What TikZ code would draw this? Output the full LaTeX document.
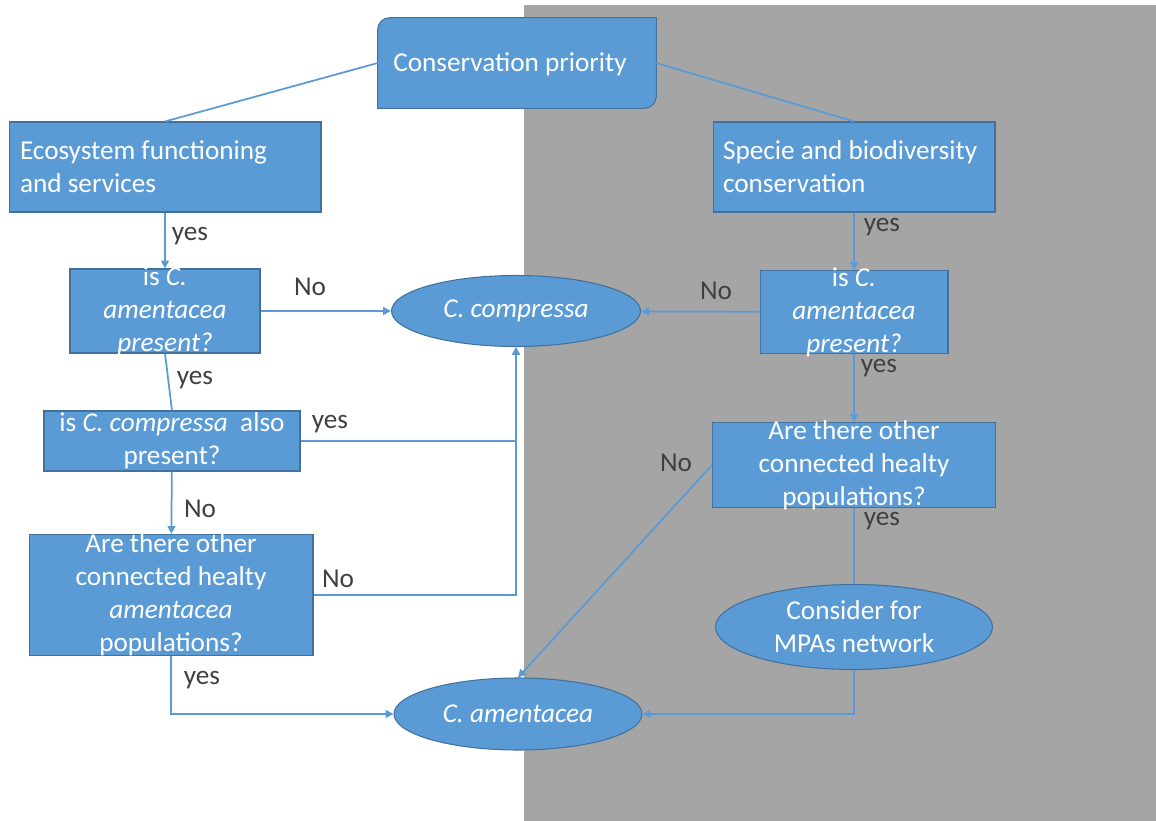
\documentclass[tikz,border=0pt]{standalone}
\usepackage{fontspec}
\setmainfont{Carlito}
\usetikzlibrary{shapes.geometric, arrows.meta, positioning}
\definecolor{flowblue}{HTML}{5B9BD5}
\definecolor{flowedge}{HTML}{41719C}
\definecolor{panelgray}{HTML}{A5A5A5}
\definecolor{answergray}{HTML}{404040}
\newcommand{\boxfont}{\fontsize{15.5}{18.7}\selectfont}

\begin{document}
\begin{tikzpicture}[
    x=0.02cm, y=-0.02cm,
    box/.style={
        rectangle,
        draw=flowedge,
        fill=flowblue,
        line width=0.6pt,
        inner sep=0pt,
        text=white,
        font=\boxfont,
        align=center
    },
    oval/.style={
        ellipse,
        draw=flowedge,
        fill=flowblue,
        line width=0.6pt,
        inner sep=0pt,
        text=white,
        font=\boxfont
    },
    boxtext/.style={
        text=white,
        font=\boxfont,
        align=center,
        inner sep=0pt
    },
    arrow/.style={
        -{Triangle[length=4.5pt,width=4.5pt]},
        line width=1pt,
        flowblue
    },
    link/.style={
        line width=1pt,
        flowblue
    },
    answer/.style={
        font=\boxfont,
        text=answergray
    }
]

% Background and grey panel
\fill[white] (0,0) rectangle (1156,821);
\fill[panelgray] (524,5) rectangle (1156,821);

% Top box, two rounded corners
\node[inner sep=0pt, minimum width=5.56cm, minimum height=1.8cm] (prio) at (517,63) {};
\filldraw[fill=flowblue, draw=flowedge, line width=0.6pt]
    (prio.south west) -- ([yshift=-0.24cm]prio.north west)
    arc[start angle=180, end angle=90, radius=0.24cm]
    -- (prio.north east) -- ([yshift=0.24cm]prio.south east)
    arc[start angle=0, end angle=-90, radius=0.24cm] -- cycle;
\node[boxtext] (priotext) at (510,64) {Conservation priority};

% Left branch
\node[box, align=flush left, text width=5.8cm, inner xsep=0.22cm, minimum height=1.8cm] (eco) at (165,167)
    {Ecosystem functioning\\and services};
\node[box, minimum width=3.8cm, minimum height=1.68cm] (isAL) at (165,311) {};
\node[boxtext] (isALtext) at (isAL) {is \textit{C.}\\\textit{amentacea}\\\textit{present?}};
\node[box, minimum width=5.12cm, minimum height=1.2cm] (alsoC) at (172,441) {};
\node[boxtext] (alsoCtext) at (alsoC) {is \textit{C. compressa}\ \ also\\present?};
\node[box, minimum width=5.68cm, minimum height=2.42cm] (otherL) at (171,595) {};
\node[boxtext] (otherLtext) at (otherL) {Are there other\\connected healty\\\textit{amentacea}\\populations?};

% Right branch
\node[box, align=flush left, text width=5.24cm, inner xsep=0.2cm, minimum height=1.8cm] (specie) at (854,167)
    {Specie and biodiversity\\conservation};
\node[box, minimum width=3.76cm, minimum height=1.66cm] (isAR) at (854,312) {};
\node[boxtext] (isARtext) at (isAR) {is \textit{C.}\\\textit{amentacea}\\\textit{present?}};
\node[box, minimum width=5.66cm, minimum height=1.7cm] (otherR) at (854,465) {};
\node[boxtext] (otherRtext) at (otherR) {Are there other\\connected healty\\populations?};
\node[oval, minimum width=5.54cm, minimum height=1.7cm] (mpa) at (854,627) {};
\node[boxtext] (mpatext) at (mpa) {Consider for\\MPAs network};

% Outcomes
\node[oval, minimum width=4.98cm, minimum height=1.42cm] (compressa) at (516,311) {\textit{C. compressa}};
\node[oval, minimum width=4.96cm, minimum height=1.44cm] (amentacea) at (518,714) {\textit{C. amentacea}};

% Connectors
\draw[link] (prio.west) -- (eco.north);
\draw[link] (prio.east) -- (specie.north);
\draw[arrow] (eco) -- (isAL);
\draw[arrow] (isAL) -- (compressa);
\draw[link] (isAL.south) -- (alsoC.north);
\draw[arrow] (alsoC.east) -| (compressa.south);
\draw[arrow] (alsoC) -- (otherL);
\draw[arrow] (otherL.east) -| (compressa.south);
\draw[arrow] (otherL.south) |- (amentacea.west);
\draw[arrow] (specie) -- (isAR);
\draw[arrow] (isAR) -- (compressa);
\draw[arrow] (isAR) -- (otherR);
\draw[arrow] (otherR.west) -- (amentacea.north);
\draw[link] (otherR) -- (mpa);
\draw[arrow] (mpa.south) |- (amentacea.east);

% Answers
\node[answer] (yesA) at (190,236) {yes};
\node[answer] (noA) at (310,287) {No};
\node[answer] (yesB) at (195,380) {yes};
\node[answer] (yesC) at (330,424) {yes};
\node[answer] (noB) at (200,509) {No};
\node[answer] (noC) at (338,579) {No};
\node[answer] (yesD) at (202,680) {yes};
\node[answer] (yesE) at (882,227) {yes};
\node[answer] (noD) at (716,291) {No};
\node[answer] (yesF) at (879,368) {yes};
\node[answer] (noE) at (676,463) {No};
\node[answer] (yesG) at (882,521) {yes};

\end{tikzpicture}
\end{document}
